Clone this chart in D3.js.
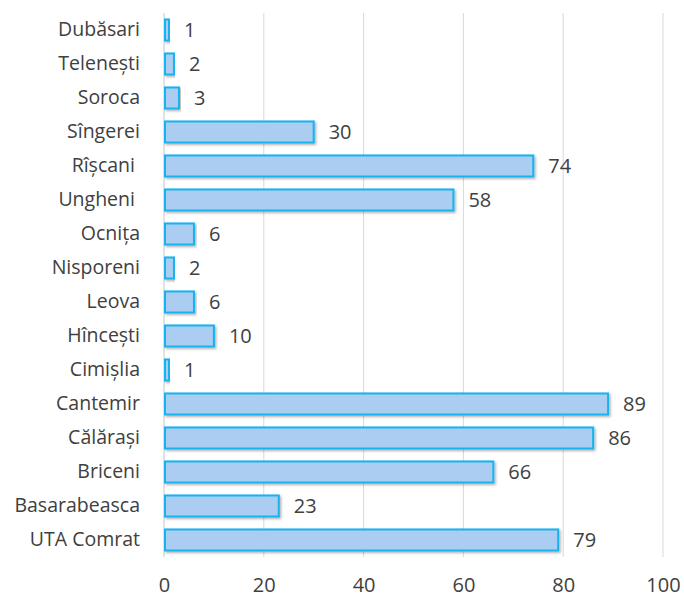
<!DOCTYPE html>
<html>
<head>
<meta charset="utf-8">
<script src="https://cdn.jsdelivr.net/npm/d3@7"></script>
<style>
  body { margin: 0; background: #fff; }
  text { font-family: "Open Sans", sans-serif; fill: #404040; white-space: pre; }
</style>
</head>
<body>
<div id="chart"></div>
<script>
var width = 684;
var height = 599;

// data, top to bottom (two labels carry a trailing space in the source)
var districts = ["Dubăsari", "Telenești", "Soroca", "Sîngerei", "Rîșcani ", "Ungheni ", "Ocnița",
  "Nisporeni", "Leova", "Hîncești", "Cimișlia", "Cantemir", "Călărași", "Briceni",
  "Basarabeasca", "UTA Comrat"];
var counts = [1, 2, 3, 30, 74, 58, 6, 2, 6, 10, 1, 89, 86, 66, 23, 79];
var ticks = [0, 20, 40, 60, 80, 100];

var margin = {top: 13, right: 21, bottom: 42, left: 164};

var x = d3.scaleLinear()
  .domain([0, 100])
  .range([margin.left, width - margin.right]);

var y = d3.scaleBand()
  .domain(districts)
  .range([margin.top, height - margin.bottom])
  .paddingInner(0.38)
  .paddingOuter(0.19);

var svg = d3.select("#chart")
  .append("svg")
  .attr("width", width)
  .attr("height", height);

// soft shadow under bars
var defs = svg.append("defs");
var f = defs.append("filter").attr("id", "shadow")
  .attr("x", "-5%").attr("y", "-20%").attr("width", "115%").attr("height", "160%");
f.append("feDropShadow")
  .attr("dx", 1.5).attr("dy", 1.5).attr("stdDeviation", 1.2)
  .attr("flood-color", "#000").attr("flood-opacity", 0.3);

// gridlines
svg.append("g")
  .selectAll("line")
  .data(ticks.slice(1))
  .join("line")
    .attr("x1", d => x(d)).attr("x2", d => x(d))
    .attr("y1", margin.top).attr("y2", height - margin.bottom)
    .attr("stroke", "#d9d9d9")
    .attr("stroke-width", 1);

// axis line at zero
svg.append("line")
  .attr("x1", x(0)).attr("x2", x(0))
  .attr("y1", margin.top).attr("y2", height - margin.bottom)
  .attr("stroke", "#d0d0d0")
  .attr("stroke-width", 1.2);

// x tick labels
var xAxis = svg.append("g")
  .attr("transform", `translate(0,${height - margin.bottom})`)
  .call(d3.axisBottom(x).tickValues(ticks).tickSize(0).tickPadding(21));
xAxis.select(".domain").remove();
xAxis.selectAll("text")
  .style("font-family", "'Open Sans', sans-serif")
  .style("font-size", "20px")
  .attr("fill", "#404040");

// category labels
var yAxis = svg.append("g")
  .attr("transform", `translate(${margin.left},0)`)
  .call(d3.axisLeft(y).tickSize(0).tickPadding(24));
yAxis.select(".domain").remove();
yAxis.selectAll("text")
  .style("font-family", "'Open Sans', sans-serif")
  .style("font-size", "19.5px")
  .attr("fill", "#404040");

// bars
svg.append("g")
  .selectAll("rect")
  .data(districts)
  .join("rect")
    .attr("x", x(0) + 1)
    .attr("y", d => y(d))
    .attr("width", (d, i) => Math.max(x(counts[i]) - x(0) - 1, 1))
    .attr("height", y.bandwidth())
    .attr("fill", "#abcdf1")
    .attr("stroke", "#13b3f0")
    .attr("stroke-width", 2)
    .attr("filter", "url(#shadow)");

// value labels
svg.append("g")
  .selectAll("text")
  .data(districts)
  .join("text")
    .attr("x", (d, i) => x(counts[i]) + 15)
    .attr("y", d => y(d) + y.bandwidth() / 2)
    .attr("dy", "0.36em")
    .style("font-size", "20px")
    .text((d, i) => counts[i]);
</script>
</body>
</html>
